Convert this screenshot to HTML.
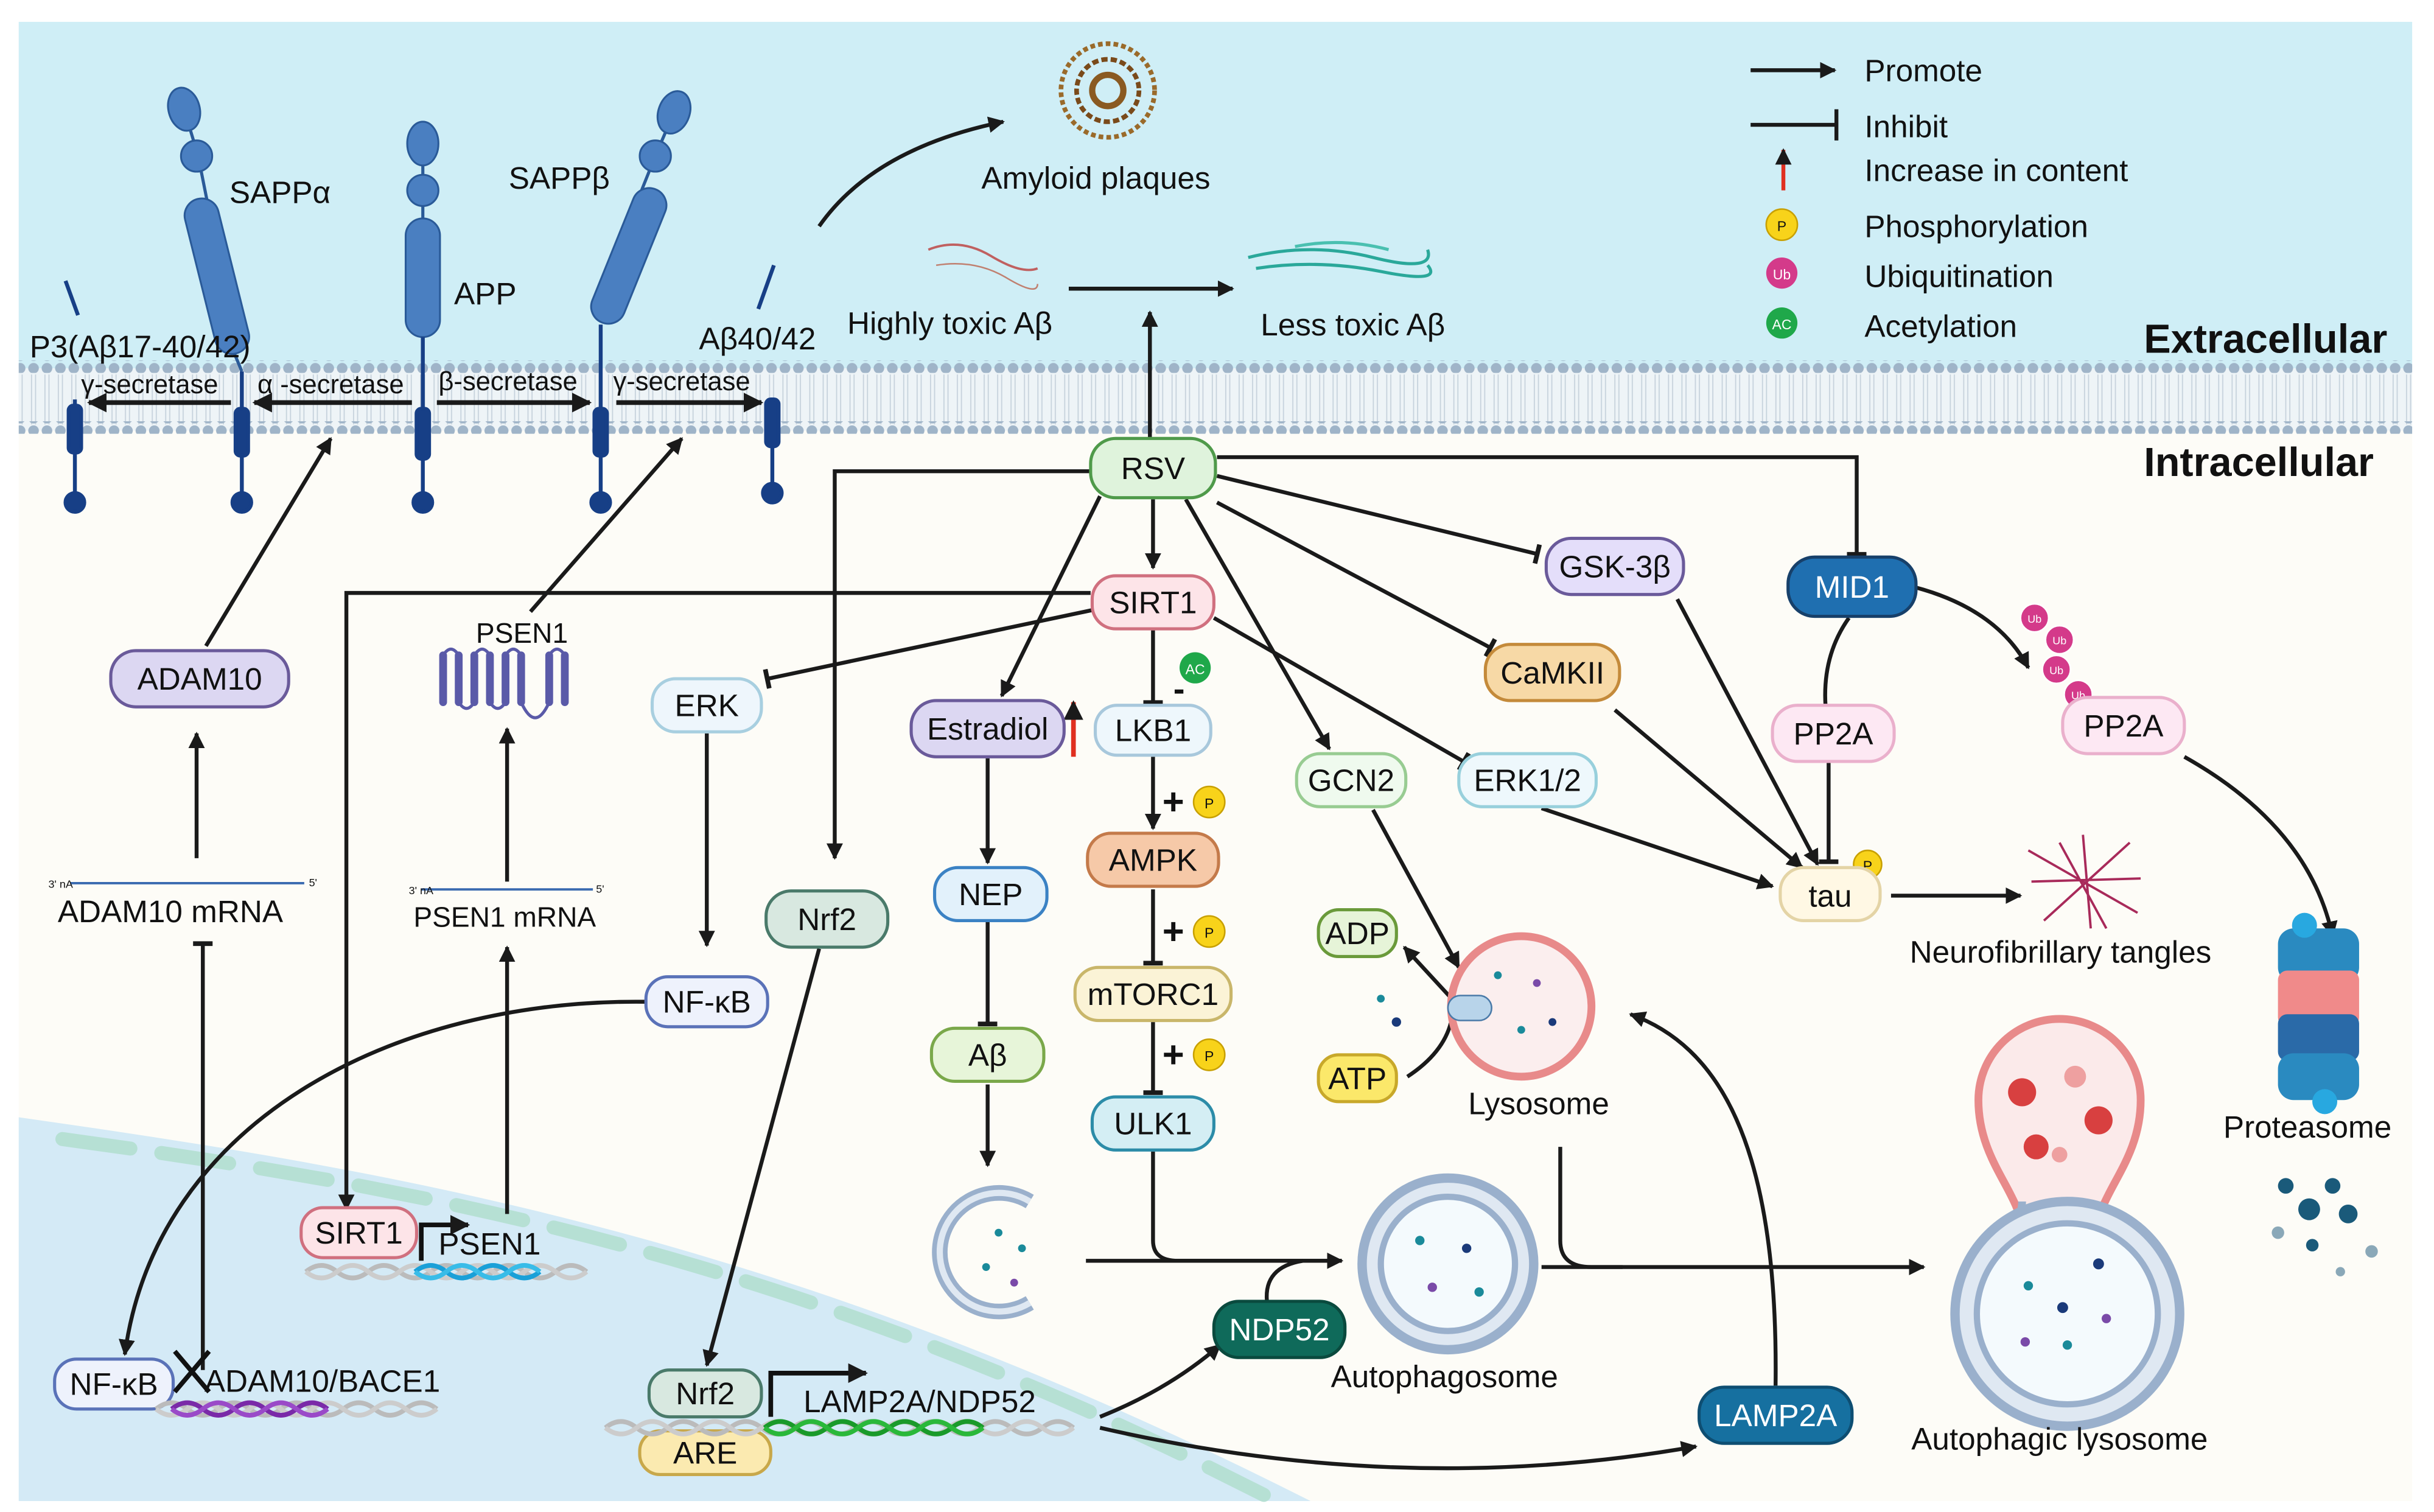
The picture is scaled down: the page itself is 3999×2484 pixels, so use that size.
<!DOCTYPE html>
<html><head><meta charset="utf-8"><style>
html,body{margin:0;padding:0;background:#fff}
svg{display:block}
text{font-family:"Liberation Sans",sans-serif;fill:#111}
</style></head><body>
<svg width="3999" height="2484" viewBox="0 0 1560 969" xmlns="http://www.w3.org/2000/svg">
<defs>
<marker id="a" viewBox="0 0 10 10" refX="9" refY="5" markerWidth="4.2" markerHeight="4.2" orient="auto-start-reverse"><path d="M0,0 L10,5 L0,10 Z" fill="#1a1a1a"/></marker>
<marker id="t" viewBox="0 0 10 10" refX="6" refY="5" markerWidth="5" markerHeight="5" orient="auto"><rect x="5" y="0" width="2.4" height="10" fill="#1a1a1a"/></marker>
<pattern id="dots" width="8.6" height="8" patternUnits="userSpaceOnUse"><circle cx="4.3" cy="4" r="3.4" fill="#9fb4c8"/></pattern>
<pattern id="tails" width="8.6" height="30" patternUnits="userSpaceOnUse"><line x1="3" y1="0" x2="3" y2="30" stroke="#c6d2dc" stroke-width="0.7"/><line x1="5.6" y1="0" x2="5.6" y2="30" stroke="#c6d2dc" stroke-width="0.7"/></pattern>
</defs>
<rect x="12" y="14" width="1534" height="948" fill="#fdfcf7"/>
<rect x="12" y="14" width="1534" height="222" fill="#cfeef6"/>
<rect x="12" y="236" width="1534" height="40" fill="#eef4f7"/>
<rect x="12" y="240" width="1534" height="32" fill="url(#tails)"/>
<rect x="12" y="231" width="1534" height="8" fill="url(#dots)"/>
<rect x="12" y="270" width="1534" height="8" fill="url(#dots)"/>
<path d="M12,716 C250,750 500,790 840,962 L12,962 Z" fill="#d4eaf6"/>
<path d="M40,730 C260,760 500,800 810,958" fill="none" stroke="#b6e0d4" stroke-width="9" stroke-linecap="round" stroke-dasharray="44 20"/>

<!-- membrane proteins -->
<g stroke="#2a5a98" stroke-width="2" fill="none">
<path d="M118,70 L127,100 L133,130"/>
<path d="M271,92 V150"/>
<path d="M432,72 L420,100 L410,125"/>
<path d="M150,226 L155,238"/>
</g>
<g fill="#4a7fc1" stroke="#2a5a98" stroke-width="1.2">
<ellipse cx="118" cy="70" rx="10" ry="14" transform="rotate(-15 118 70)"/>
<circle cx="126" cy="100" r="10"/>
<rect x="128" y="126" width="22" height="102" rx="11" transform="rotate(-14 139 177)"/>
<ellipse cx="271" cy="92" rx="10" ry="14"/>
<circle cx="271" cy="122" r="10"/>
<rect x="260" y="140" width="22" height="76" rx="11"/>
<ellipse cx="432" cy="72" rx="10" ry="14" transform="rotate(20 432 72)"/>
<circle cx="420" cy="100" r="10"/>
<rect x="392" y="118" width="22" height="92" rx="11" transform="rotate(22 403 164)"/>
</g>
<g stroke="#173f86" stroke-width="2.5" fill="#173f86">
<line x1="42" y1="180" x2="50" y2="202"/>
<line x1="486" y1="198" x2="496" y2="170"/>
<line x1="271" y1="216" x2="271" y2="320"/><rect x="267" y="262" width="8" height="32" rx="3"/><circle cx="271" cy="322" r="6"/>
<line x1="48" y1="256" x2="48" y2="320"/><rect x="44" y="260" width="8" height="30" rx="3"/><circle cx="48" cy="322" r="6"/>
<line x1="155" y1="238" x2="155" y2="320"/><rect x="151" y="262" width="8" height="30" rx="3"/><circle cx="155" cy="322" r="6"/>
<line x1="385" y1="208" x2="385" y2="320"/><rect x="381" y="262" width="8" height="30" rx="3"/><circle cx="385" cy="322" r="6"/>
<line x1="495" y1="256" x2="495" y2="314"/><rect x="491" y="256" width="8" height="30" rx="3"/><circle cx="495" cy="316" r="6"/>
</g>
<g font-size="20">
<text x="147" y="130">SAPPα</text>
<text x="291" y="195">APP</text>
<text x="326" y="121">SAPPβ</text>
<text x="19" y="229">P3(Aβ17-40/42)</text>
<text x="448" y="224">Aβ40/42</text>
<text x="52" y="252" font-size="17">γ-secretase</text>
<text x="165" y="252" font-size="17">α -secretase</text>
<text x="281" y="250" font-size="17">β-secretase</text>
<text x="393" y="250" font-size="17">γ-secretase</text>
</g>
<g stroke="#1a1a1a" stroke-width="3" fill="none" marker-end="url(#a)">
<line x1="148" y1="258" x2="57" y2="258"/>
<line x1="264" y1="258" x2="163" y2="258"/>
<line x1="280" y1="258" x2="378" y2="258"/>
<line x1="395" y1="258" x2="488" y2="258"/>
</g>

<!-- top -->
<g fill="none" stroke="#8a5a1a" stroke-width="1">
<circle cx="710" cy="58" r="30" stroke-dasharray="3 2" stroke-width="3" stroke="#9a6a2a"/>
<circle cx="710" cy="58" r="20" stroke-dasharray="4 2" stroke-width="3" stroke="#7a4a1a"/>
<circle cx="710" cy="58" r="10" stroke-width="4" stroke="#8a5a22"/>
<path d="M595,160 q20,-8 40,4 t30,8" stroke="#c06060" stroke-width="1.5"/><path d="M600,170 q25,-4 45,8 t20,4" stroke="#c08070"/>
<path d="M800,165 q40,-10 80,0 t35,-5" stroke="#2aa89a" stroke-width="2"/><path d="M805,172 q40,-6 80,2 t30,-4" stroke="#2aa89a" stroke-width="2"/><path d="M830,158 q30,-6 60,2" stroke="#4ac0b0" stroke-width="2"/>
</g>
<text x="629" y="121" font-size="20">Amyloid plaques</text>
<text x="543" y="214" font-size="20">Highly toxic Aβ</text>
<text x="808" y="215" font-size="20">Less toxic Aβ</text>
<text x="1374" y="226" font-size="26" font-weight="bold">Extracellular</text>
<text x="1374" y="305" font-size="26" font-weight="bold">Intracellular</text>

<!-- legend -->
<g font-size="20">
<line x1="1122" y1="45" x2="1176" y2="45" stroke="#1a1a1a" stroke-width="2.5" marker-end="url(#a)"/><text x="1195" y="52">Promote</text>
<line x1="1122" y1="80" x2="1176" y2="80" stroke="#1a1a1a" stroke-width="2.5"/><line x1="1177" y1="70" x2="1177" y2="90" stroke="#1a1a1a" stroke-width="2.5"/><text x="1195" y="88">Inhibit</text>
<line x1="1143" y1="122" x2="1143" y2="96" stroke="#e03020" stroke-width="2.5" marker-end="url(#a)"/><text x="1195" y="116">Increase in content</text>
<circle cx="1142" cy="144" r="10" fill="#f8d31a" stroke="#c8a000"/><text x="1142" y="148" font-size="9" text-anchor="middle">P</text><text x="1195" y="152">Phosphorylation</text>
<circle cx="1142" cy="175" r="10" fill="#d43a8a"/><text x="1142" y="179" font-size="9" text-anchor="middle" style="fill:#fff">Ub</text><text x="1195" y="184">Ubiquitination</text>
<circle cx="1142" cy="207" r="10" fill="#1fa84a"/><text x="1142" y="211" font-size="9" text-anchor="middle" style="fill:#fff">AC</text><text x="1195" y="216">Acetylation</text>
</g>

<!-- connectors -->
<g stroke="#1a1a1a" stroke-width="2.5" fill="none">
<path d="M525,145 Q560,95 643,78" marker-end="url(#a)"/>
<line x1="685" y1="185" x2="790" y2="185" marker-end="url(#a)"/>
<line x1="737" y1="281" x2="737" y2="200" marker-end="url(#a)"/>
<line x1="132" y1="414" x2="212" y2="281" marker-end="url(#a)"/>
<line x1="126" y1="550" x2="126" y2="470" marker-end="url(#a)"/>
<line x1="340" y1="392" x2="437" y2="281" marker-end="url(#a)"/>
<line x1="325" y1="565" x2="325" y2="467" marker-end="url(#a)"/>
<line x1="325" y1="778" x2="325" y2="607" marker-end="url(#a)"/>
<line x1="130" y1="878" x2="130" y2="605" marker-end="url(#t)"/>
<path d="M699,380 L222,380 L222,775" marker-end="url(#a)"/>
<line x1="700" y1="391" x2="492" y2="435" marker-end="url(#t)"/>
<path d="M700,302 L535,302 L535,550" marker-end="url(#a)"/>
<line x1="739" y1="320" x2="739" y2="364" marker-end="url(#a)"/>
<line x1="705" y1="318" x2="642" y2="446" marker-end="url(#a)"/>
<line x1="760" y1="320" x2="852" y2="480" marker-end="url(#a)"/>
<line x1="780" y1="305" x2="985" y2="355" marker-end="url(#t)"/>
<line x1="780" y1="322" x2="955" y2="415" marker-end="url(#t)"/>
<path d="M780,293 L1190,293 L1190,355" marker-end="url(#t)"/>
<line x1="778" y1="396" x2="938" y2="488" marker-end="url(#t)"/>
<line x1="739" y1="404" x2="739" y2="450" marker-end="url(#t)"/>
<line x1="739" y1="485" x2="739" y2="531" marker-end="url(#a)"/>
<line x1="739" y1="570" x2="739" y2="617" marker-end="url(#t)"/>
<line x1="739" y1="655" x2="739" y2="700" marker-end="url(#t)"/>
<line x1="633" y1="486" x2="633" y2="553" marker-end="url(#a)"/>
<line x1="633" y1="591" x2="633" y2="656" marker-end="url(#t)"/>
<line x1="633" y1="695" x2="633" y2="747" marker-end="url(#a)"/>
<line x1="453" y1="470" x2="453" y2="606" marker-end="url(#a)"/>
<path d="M414,642 C250,640 100,720 80,868" marker-end="url(#a)"/>
<line x1="525" y1="608" x2="453" y2="875" marker-end="url(#a)"/>
<line x1="1075" y1="384" x2="1165" y2="554" marker-end="url(#a)"/>
<line x1="1035" y1="455" x2="1155" y2="556" marker-end="url(#a)"/>
<line x1="988" y1="518" x2="1136" y2="568" marker-end="url(#a)"/>
<line x1="880" y1="519" x2="935" y2="620" marker-end="url(#a)"/>
<path d="M1185,396 Q1168,420 1170,452"/>
<path d="M1226,376 Q1280,390 1300,428" marker-end="url(#a)"/>
<line x1="1172" y1="489" x2="1172" y2="552" marker-end="url(#t)"/>
<line x1="1212" y1="574" x2="1295" y2="574" marker-end="url(#a)"/>
<path d="M1400,485 Q1480,530 1495,600" marker-end="url(#a)"/>
<path d="M739,738 L739,795 Q739,808 755,808 L860,808" marker-end="url(#a)"/>
<line x1="696" y1="808" x2="860" y2="808"/>
<path d="M812,834 Q810,812 835,808"/>
<path d="M1000,735 L1000,795 Q1000,812 1020,812 L1233,812" marker-end="url(#a)"/>
<line x1="988" y1="812" x2="1040" y2="812"/>
<path d="M1138,888 C1140,730 1100,670 1045,650" marker-end="url(#a)"/>
<path d="M705,908 Q750,890 782,862" marker-end="url(#a)"/>
<path d="M705,915 Q900,960 1087,927" marker-end="url(#a)"/>
<path d="M902,690 Q925,675 930,655"/>
<line x1="935" y1="645" x2="900" y2="607" marker-end="url(#a)"/>
</g>
<text x="752" y="449" font-size="22" font-weight="bold">-</text>
<circle cx="766" cy="428" r="10" fill="#1fa84a"/><text x="766" y="432" font-size="9" text-anchor="middle" style="fill:#fff">AC</text>
<g font-size="24" font-weight="bold"><text x="745" y="522">+</text><text x="745" y="605">+</text><text x="745" y="684">+</text></g>
<g><circle cx="775" cy="514" r="10" fill="#f8d31a" stroke="#c8a000"/><circle cx="775" cy="597" r="10" fill="#f8d31a" stroke="#c8a000"/><circle cx="775" cy="676" r="10" fill="#f8d31a" stroke="#c8a000"/><circle cx="1197" cy="554" r="9" fill="#f8d31a" stroke="#c8a000"/></g>
<g font-size="9" text-anchor="middle"><text x="775" y="518">P</text><text x="775" y="601">P</text><text x="775" y="680">P</text><text x="1197" y="558">P</text></g>
<line x1="688" y1="485" x2="688" y2="450" stroke="#e03020" stroke-width="3" marker-end="url(#a)"/>

<g fill="#d43a8a" stroke="#fff"><circle cx="1304" cy="396" r="9"/><circle cx="1320" cy="410" r="9"/><circle cx="1318" cy="429" r="9"/><circle cx="1332" cy="445" r="9"/></g>
<g font-size="7" text-anchor="middle"><text x="1304" y="399" style="fill:#fff">Ub</text><text x="1320" y="413" style="fill:#fff">Ub</text><text x="1318" y="432" style="fill:#fff">Ub</text><text x="1332" y="448" style="fill:#fff">Ub</text></g>

<!-- nodes -->
<g font-size="20" text-anchor="middle" stroke-width="2">
<rect x="699" y="281" width="80" height="38" rx="16" fill="#dff3dc" stroke="#4f9a4a"/><text x="739" y="307">RSV</text>
<rect x="700" y="369" width="78" height="34" rx="15" fill="#fde4e8" stroke="#d0707f"/><text x="739" y="393">SIRT1</text>
<rect x="991" y="345" width="88" height="36" rx="16" fill="#e4defa" stroke="#6a5a9a"/><text x="1035" y="370">GSK-3β</text>
<rect x="1146" y="357" width="82" height="38" rx="17" fill="#1f6fb0" stroke="#17406a"/><text x="1187" y="383" style="fill:#fff">MID1</text>
<rect x="952" y="413" width="86" height="36" rx="16" fill="#f7d9a6" stroke="#c48a3a"/><text x="995" y="438">CaMKII</text>
<rect x="418" y="435" width="70" height="34" rx="15" fill="#eef6fc" stroke="#a8cfe0"/><text x="453" y="459">ERK</text>
<rect x="584" y="449" width="98" height="36" rx="16" fill="#dcd7f2" stroke="#6a5a9a"/><text x="633" y="474">Estradiol</text>
<rect x="702" y="452" width="74" height="32" rx="14" fill="#eef7fc" stroke="#a8c8dc"/><text x="739" y="475">LKB1</text>
<rect x="831" y="483" width="70" height="34" rx="15" fill="#effaee" stroke="#98cc92"/><text x="866" y="507">GCN2</text>
<rect x="935" y="483" width="88" height="34" rx="15" fill="#eef8fc" stroke="#98d0dc"/><text x="979" y="507">ERK1/2</text>
<rect x="1136" y="452" width="78" height="36" rx="16" fill="#fde8f3" stroke="#eab0cc"/><text x="1175" y="477">PP2A</text>
<rect x="1322" y="447" width="78" height="36" rx="16" fill="#fde8f3" stroke="#eab0cc"/><text x="1361" y="472">PP2A</text>
<rect x="1141" y="556" width="64" height="34" rx="15" fill="#fff8e4" stroke="#e4d4a6"/><text x="1173" y="581">tau</text>
<rect x="697" y="534" width="84" height="34" rx="15" fill="#f6c9a8" stroke="#c47a4a"/><text x="739" y="558">AMPK</text>
<rect x="689" y="620" width="100" height="34" rx="15" fill="#fbf3d6" stroke="#c9b66a"/><text x="739" y="644">mTORC1</text>
<rect x="700" y="703" width="78" height="34" rx="15" fill="#d4eef4" stroke="#2c8ca8"/><text x="739" y="727">ULK1</text>
<rect x="599" y="556" width="72" height="34" rx="15" fill="#e2f1fb" stroke="#3b82c4"/><text x="635" y="580">NEP</text>
<rect x="597" y="659" width="72" height="34" rx="15" fill="#e7f5d9" stroke="#7aa84a"/><text x="633" y="683">Aβ</text>
<rect x="491" y="571" width="78" height="36" rx="16" fill="#d8e8e0" stroke="#4a7a6a"/><text x="530" y="596">Nrf2</text>
<rect x="414" y="626" width="78" height="32" rx="14" fill="#eef2fc" stroke="#5a72b8"/><text x="453" y="649">NF-κB</text>
<rect x="71" y="417" width="114" height="36" rx="16" fill="#dcd7f2" stroke="#6a5a9a"/><text x="128" y="442">ADAM10</text>
<rect x="845" y="583" width="50" height="30" rx="13" fill="#e6f4d8" stroke="#6a9a3a"/><text x="870" y="605">ADP</text>
<rect x="845" y="676" width="50" height="30" rx="13" fill="#fbe86a" stroke="#c8a82a"/><text x="870" y="698">ATP</text>
<rect x="778" y="834" width="84" height="36" rx="16" fill="#0f6a5a" stroke="#0a4a3e"/><text x="820" y="859" style="fill:#fff">NDP52</text>
<rect x="1089" y="889" width="98" height="36" rx="16" fill="#1670a0" stroke="#0e4e72"/><text x="1138" y="914" style="fill:#fff">LAMP2A</text>
<rect x="193" y="774" width="74" height="32" rx="14" fill="#fde4e8" stroke="#d0707f"/><text x="230" y="797">SIRT1</text>
<rect x="35" y="871" width="76" height="32" rx="14" fill="#eef2fc" stroke="#5a72b8"/><text x="73" y="894">NF-κB</text>
<rect x="416" y="878" width="72" height="30" rx="13" fill="#d8e8e0" stroke="#4a7a6a"/><text x="452" y="900">Nrf2</text>
<rect x="410" y="917" width="84" height="28" rx="13" fill="#fbeab0" stroke="#c8a84a"/><text x="452" y="938">ARE</text>
</g>

<g stroke="#5a5aa8" stroke-width="5" fill="none" stroke-linecap="round">
<path d="M284,420 v30 M294,420 v30 M304,420 v30 M314,420 v30 M324,420 v30 M334,420 v30 M352,420 v30 M362,420 v30"/>
<path d="M284,420 q5,-8 10,0 M304,420 q5,-8 10,0 M324,420 q5,-8 10,0 M294,450 q5,8 10,0 M314,450 q5,8 10,0 M334,450 q9,20 18,0 M352,420 q5,-8 10,0" stroke-width="2"/>
</g>
<text x="305" y="412" font-size="18">PSEN1</text>
<g stroke="#3a6ab0" stroke-width="1.5"><line x1="45" y1="566" x2="195" y2="566"/><line x1="270" y1="570" x2="380" y2="570"/></g>
<text x="31" y="569" font-size="7">3' nA</text><text x="198" y="568" font-size="7">5'</text>
<text x="262" y="573" font-size="7">3' nA</text><text x="382" y="572" font-size="7">5'</text>
<text x="37" y="591" font-size="20">ADAM10 mRNA</text>
<text x="265" y="594" font-size="18">PSEN1 mRNA</text>

<g fill="none" stroke-width="3">
<path d="M196,815 q10,-8 20,0 t20,0 t20,0 t20,0 t20,0 t20,0 t20,0 t20,0 t20,0" stroke="#bbb"/>
<path d="M196,815 q10,8 20,0 t20,0 t20,0 t20,0 t20,0 t20,0 t20,0 t20,0 t20,0" stroke="#ccc"/>
<path d="M266,815 q10,-8 20,0 t20,0 t20,0 t20,0" stroke="#1aa0d8"/>
<path d="M266,815 q10,8 20,0 t20,0 t20,0 t20,0" stroke="#38bce8"/>
<path d="M100,903 q10,-8 20,0 t20,0 t20,0 t20,0 t20,0 t20,0 t20,0 t20,0 t20,0" stroke="#bbb"/>
<path d="M100,903 q10,8 20,0 t20,0 t20,0 t20,0 t20,0 t20,0 t20,0 t20,0 t20,0" stroke="#ccc"/>
<path d="M110,903 q10,-8 20,0 t20,0 t20,0 t20,0 t20,0" stroke="#7a2aa8"/>
<path d="M110,903 q10,8 20,0 t20,0 t20,0 t20,0 t20,0" stroke="#9a4ac8"/>
<path d="M388,915 q10,-8 20,0 t20,0 t20,0 t20,0 t20,0 t20,0 t20,0 t20,0 t20,0 t20,0 t20,0 t20,0 t20,0 t20,0 t20,0" stroke="#bbb"/>
<path d="M388,915 q10,8 20,0 t20,0 t20,0 t20,0 t20,0 t20,0 t20,0 t20,0 t20,0 t20,0 t20,0 t20,0 t20,0 t20,0 t20,0" stroke="#ccc"/>
<path d="M490,915 q10,-8 20,0 t20,0 t20,0 t20,0 t20,0 t20,0 t20,0" stroke="#1a9a2a"/>
<path d="M490,915 q10,8 20,0 t20,0 t20,0 t20,0 t20,0 t20,0 t20,0" stroke="#2ab83a"/>
</g>
<g stroke="#111" stroke-width="3" fill="none">
<path d="M270,808 V785 H300" marker-end="url(#a)"/>
<path d="M494,908 V880 H555" marker-end="url(#a)"/>
<path d="M112,866 l22,26 M134,866 l-22,26"/>
</g>
<text x="281" y="804" font-size="20">PSEN1</text>
<text x="131" y="892" font-size="20">ADAM10/BACE1</text>
<text x="515" y="905" font-size="20">LAMP2A/NDP52</text>

<path d="M660,770 A38,38 0 1 0 660,835" fill="none" stroke="#9ab0cc" stroke-width="10"/>
<path d="M660,770 A38,38 0 1 0 660,835" fill="none" stroke="#dfe8f2" stroke-width="4"/>
<g fill="#1a8a9a"><circle cx="640" cy="790" r="2.5"/><circle cx="655" cy="800" r="2.5"/><circle cx="632" cy="812" r="2.5"/><circle cx="650" cy="822" r="2.5" fill="#7a4aa8"/></g>
<circle cx="928" cy="810" r="55" fill="#dfe8f2" stroke="#9ab0cc" stroke-width="6"/>
<circle cx="928" cy="810" r="43" fill="#f4fafd" stroke="#9ab0cc" stroke-width="4"/>
<g fill="#1a8a9a"><circle cx="910" cy="795" r="3"/><circle cx="940" cy="800" r="3" fill="#1a3a7a"/><circle cx="918" cy="825" r="3" fill="#7a4aa8"/><circle cx="948" cy="828" r="3"/></g>
<text x="853" y="889" font-size="20">Autophagosome</text>
<circle cx="975" cy="645" r="45" fill="#fbeeee" stroke="#e88a8a" stroke-width="5"/>
<rect x="928" y="638" width="28" height="16" rx="8" fill="#b8d4ea" stroke="#4a7aa8"/>
<g fill="#1a8a9a"><circle cx="960" cy="625" r="2.5"/><circle cx="985" cy="630" r="2.5" fill="#7a4aa8"/><circle cx="975" cy="660" r="2.5"/><circle cx="995" cy="655" r="2.5" fill="#1a3a7a"/><circle cx="885" cy="640" r="2.5"/><circle cx="895" cy="655" r="3" fill="#1a3a7a"/></g>
<text x="941" y="714" font-size="20">Lysosome</text>
<!-- autophagic lysosome -->
<path d="M1296,790 C1296,765 1268,745 1268,705 A52,52 0 1 1 1372,705 C1372,745 1344,765 1344,790 Z" fill="#fbeaea" stroke="#e88a8a" stroke-width="5"/>
<path d="M1296,770 C1296,780 1290,785 1285,790 M1344,770 C1344,780 1350,785 1355,790" fill="none" stroke="#9ab0cc" stroke-width="5"/>
<circle cx="1325" cy="842" r="72" fill="#dfe8f2" stroke="#9ab0cc" stroke-width="6"/>
<circle cx="1325" cy="842" r="58" fill="#f4fafd" stroke="#9ab0cc" stroke-width="4"/>
<g fill="#d84040"><circle cx="1296" cy="700" r="9"/><circle cx="1345" cy="718" r="9"/><circle cx="1305" cy="735" r="8"/><circle cx="1330" cy="690" r="7" fill="#eea0a0"/><circle cx="1320" cy="740" r="5" fill="#eea0a0"/></g>
<g fill="#1a8a9a"><circle cx="1300" cy="824" r="3"/><circle cx="1345" cy="810" r="3.5" fill="#1a3a7a"/><circle cx="1322" cy="838" r="3.5" fill="#1a3a7a"/><circle cx="1350" cy="845" r="3" fill="#7a4aa8"/><circle cx="1298" cy="860" r="3" fill="#7a4aa8"/><circle cx="1325" cy="862" r="3"/></g>
<text x="1225" y="929" font-size="20">Autophagic lysosome</text>
<g stroke="#a82a5a" stroke-width="1.5" fill="none"><path d="M1300,545 l70,40 M1310,590 l55,-50 M1335,535 l5,60 M1302,565 l70,-2 M1320,540 l30,55"/></g>
<text x="1224" y="617" font-size="20">Neurofibrillary tangles</text>
<rect x="1460" y="595" width="52" height="35" rx="10" fill="#2a8ac0"/>
<rect x="1460" y="622" width="52" height="36" rx="6" fill="#f08a8a"/>
<rect x="1460" y="650" width="52" height="30" rx="6" fill="#2a6aa8"/>
<rect x="1460" y="675" width="52" height="30" rx="10" fill="#2a8ac0"/>
<circle cx="1477" cy="593" r="8" fill="#28a8e0"/><circle cx="1490" cy="706" r="8" fill="#28a8e0"/>
<text x="1425" y="729" font-size="20">Proteasome</text>
<g fill="#1a5a7a"><circle cx="1465" cy="760" r="5"/><circle cx="1495" cy="760" r="5"/><circle cx="1480" cy="775" r="7"/><circle cx="1505" cy="778" r="6"/><circle cx="1460" cy="790" r="4" fill="#8aa8b8"/><circle cx="1520" cy="802" r="4" fill="#8aa8b8"/><circle cx="1482" cy="798" r="4"/><circle cx="1500" cy="815" r="3" fill="#8aa8b8"/></g>
</svg>
</body></html>
